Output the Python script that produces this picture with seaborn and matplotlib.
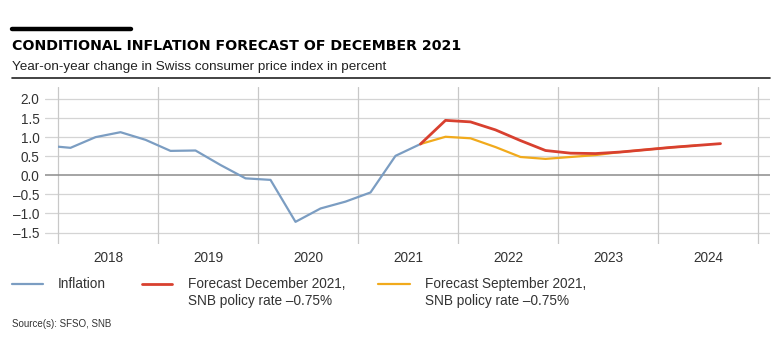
import numpy as np
import pandas as pd
import matplotlib
matplotlib.use('Agg')
import matplotlib.pyplot as plt
import seaborn as sns
from matplotlib.lines import Line2D
from matplotlib.patches import Rectangle

# ---------------- data ----------------
INFL_Q = ["2017Q4", "2018Q1", "2018Q2", "2018Q3", "2018Q4", "2019Q1", "2019Q2", "2019Q3",
          "2019Q4", "2020Q1", "2020Q2", "2020Q3", "2020Q4", "2021Q1", "2021Q2", "2021Q3"]
INFL_V = [0.78, 0.72, 1.00, 1.13, 0.93, 0.64, 0.65, 0.27,
          -0.08, -0.12, -1.22, -0.87, -0.69, -0.45, 0.51, 0.82]

DEC_Q = ["2021Q3", "2021Q4", "2022Q1", "2022Q2", "2022Q3", "2022Q4", "2023Q1", "2023Q2",
         "2023Q3", "2023Q4", "2024Q1", "2024Q2", "2024Q3"]
DEC_V = [0.82, 1.44, 1.40, 1.19, 0.91, 0.65, 0.58, 0.57, 0.61, 0.67, 0.73, 0.78, 0.83]

SEP_Q = ["2021Q3", "2021Q4", "2022Q1", "2022Q2", "2022Q3", "2022Q4", "2023Q1", "2023Q2",
         "2023Q3", "2023Q4", "2024Q1", "2024Q2"]
SEP_V = [0.82, 1.01, 0.97, 0.74, 0.48, 0.43, 0.48, 0.53, 0.61, 0.67, 0.73, 0.78]

YEARS = [2018, 2019, 2020, 2021, 2022, 2023, 2024]
Y_TICKS = [-1.5, -1.0, -0.5, 0.0, 0.5, 1.0, 1.5, 2.0]

LABELS = ["Inflation", "Forecast December 2021,\nSNB policy rate \u20130.75%",
          "Forecast September 2021,\nSNB policy rate \u20130.75%"]
COLORS = ["#7b9dc2", "#d8402f", "#f1aa1c"]

W, H = 784, 354


def qpos(q):
    # middle of the quarter on a decimal-year axis
    return int(q[:4]) + (int(q[-1]) - 0.5) / 4


def fx(px):
    return px / W


def fy(py):
    return 1 - py / H


frames = []
for name, qs, vs in [(LABELS[0], INFL_Q, INFL_V), (LABELS[1], DEC_Q, DEC_V), (LABELS[2], SEP_Q, SEP_V)]:
    frames.append(pd.DataFrame({"t": [qpos(q) for q in qs], "v": vs, "series": name}))
df = pd.concat(frames, ignore_index=True)

sns.set_style("white")
plt.rcParams['font.family'] = ['Liberation Sans', 'DejaVu Sans']

fig = plt.figure(figsize=(W / 100, H / 100), dpi=100)
fig.patch.set_facecolor('white')

ax = fig.add_axes([fx(45), fy(244), fx(770) - fx(45), fy(87) - fy(244)])

# grid
for yv in Y_TICKS:
    if yv == 0:
        continue
    ax.axhline(yv, color="#d4d4d4", lw=0.9, zorder=0)
for yr in YEARS + [2025]:
    ax.axvline(yr, color="#c8c8c8", lw=0.9, zorder=0)
ax.axhline(0, color="#8c8c8c", lw=1.1, zorder=1)

# draw order: september underneath, december on top
order = [LABELS[0], LABELS[2], LABELS[1]]
palette = dict(zip(LABELS, COLORS))
sns.lineplot(data=df, x="t", y="v", hue="series", hue_order=order, palette=palette,
             ax=ax, legend=False, lw=1.6, sort=False, estimator=None)

# clip the inflation line at the start of 2018
clip = Rectangle((2018, -5), 10, 10, transform=ax.transData)
for ln in ax.lines:
    c = matplotlib.colors.to_hex(ln.get_color())
    if c == COLORS[0]:
        ln.set_clip_path(clip)
    elif c == COLORS[1]:
        ln.set_linewidth(2.0)
        ln.set_zorder(4)
    elif c == COLORS[2]:
        ln.set_zorder(3)

ax.set_xlim(2018 + (45 - 58) / 100, 2018 + (770 - 58) / 100)
ax.set_ylim((175.3 - 244) / 38.15, (175.3 - 87) / 38.15)

ax.set_xticks([y + 0.5 for y in YEARS])
ax.set_xticklabels([str(y) for y in YEARS])
ax.set_yticks(Y_TICKS)
ax.set_yticklabels([f"{v:.1f}".replace("-", "\u2013") for v in Y_TICKS])
ax.tick_params(axis='both', length=0, labelsize=9.8, colors="#333333")
ax.tick_params(axis='x', pad=5)
ax.tick_params(axis='y', pad=4)
ax.set_xlabel("")
ax.set_ylabel("")
for s in ax.spines.values():
    s.set_visible(False)

# header
fig.add_artist(Line2D([fx(12), fx(131)], [fy(28.5), fy(28.5)], color="black", lw=3.2))
fig.text(fx(12), fy(49.5), "CONDITIONAL INFLATION FORECAST OF DECEMBER 2021", fontsize=10.2,
         fontweight='bold', family=['DejaVu Sans'], va='baseline', ha='left', color="black")
fig.text(fx(12), fy(70), "Year-on-year change in Swiss consumer price index in percent",
         fontsize=9.7, va='baseline', ha='left', color="#222222")
fig.add_artist(Line2D([fx(12), fx(770)], [fy(78), fy(78)], color="#222222", lw=1.2))

# legend
leg_items = [(12, 43, 58), (142, 172, 188), (378, 410, 425)]
for (x0, x1, xt), lab, col in zip(leg_items, LABELS, COLORS):
    fig.add_artist(Line2D([fx(x0), fx(x1)], [fy(284), fy(284)], color=col,
                          lw=2.0 if col == COLORS[1] else 1.6))
    fig.text(fx(xt), fy(277), lab, fontsize=9.8, va='top', ha='left', color="#333333",
             linespacing=1.3)

fig.text(fx(12), fy(327), "Source(s): SFSO, SNB", fontsize=7, va='baseline', ha='left', color="#333333")

fig.savefig("out.png", dpi=100)
